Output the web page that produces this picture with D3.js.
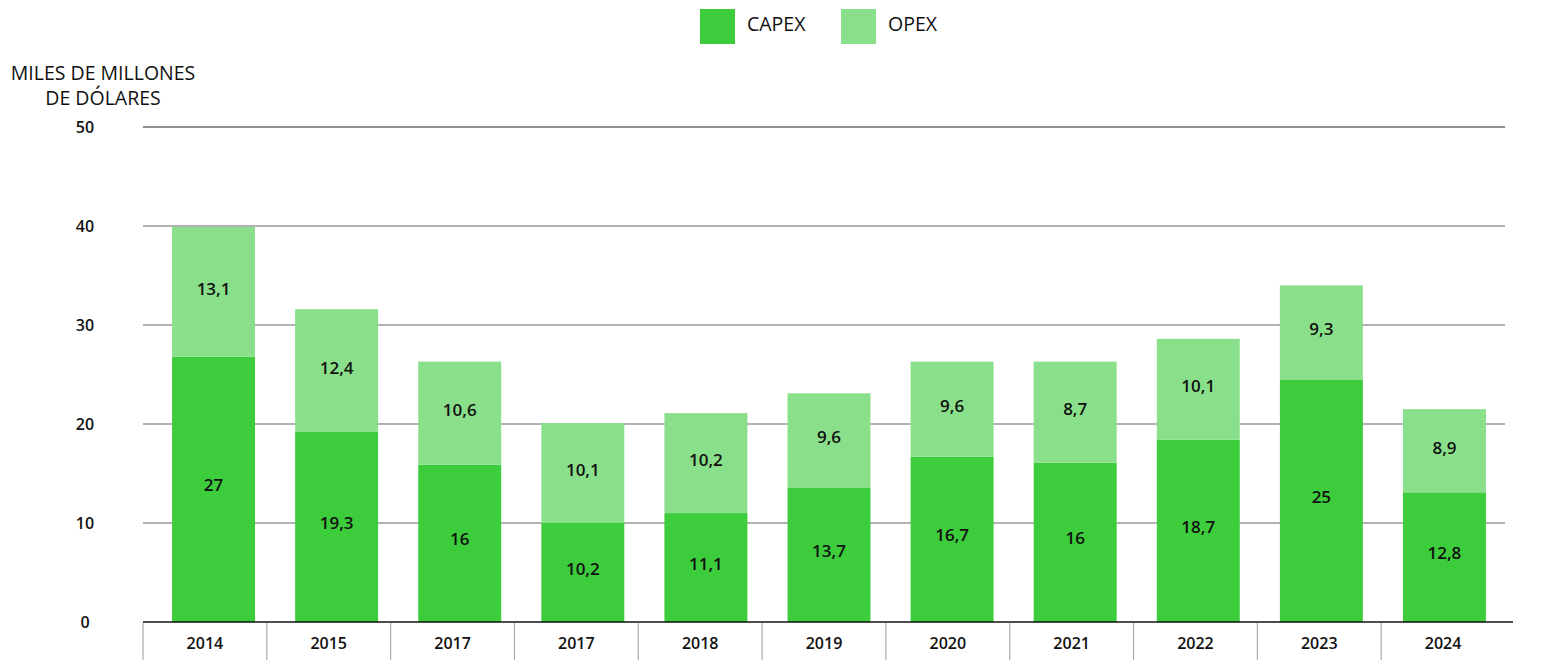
<!DOCTYPE html>
<html>
<head>
<meta charset="utf-8">
<script src="https://cdn.jsdelivr.net/npm/d3@7"></script>
<style>
  body { margin: 0; background: #fff; }
  text { font-family: "Open Sans", "Noto Sans", sans-serif; fill: #111; }
</style>
</head>
<body>
<svg id="chart" width="1562" height="660"></svg>
<script>
// datos
var years = ["2014", "2015", "2017", "2017", "2018", "2019", "2020", "2021", "2022", "2023", "2024"];
// etiquetas tal como aparecen
var capexLabels = ["27", "19,3", "16", "10,2", "11,1", "13,7", "16,7", "16", "18,7", "25", "12,8"];
var opexLabels  = ["13,1", "12,4", "10,6", "10,1", "10,2", "9,6", "9,6", "8,7", "10,1", "9,3", "8,9"];
// alturas de los segmentos
var capex = [26.8, 19.2, 15.9, 10.0, 11.0, 13.6, 16.7, 16.1, 18.4, 24.5, 13.1];
var opex  = [13.1, 12.4, 10.4, 10.1, 10.1, 9.5, 9.6, 10.2, 10.2, 9.5, 8.4];
var yTicks = [0, 10, 20, 30, 40, 50];

var colorCapex = "#3ccc3c", colorOpex = "#8ae08a";

var svg = d3.select("#chart");

// celdas del eje x
var cell = d3.scaleBand()
    .domain(d3.range(years.length))
    .range([143, 1505]);
// barras
var x = d3.scaleBand()
    .domain(d3.range(years.length))
    .range([152, 1506])
    .paddingInner(0.326)
    .paddingOuter(0.163);

var y = d3.scaleLinear()
    .domain([0, 50])
    .range([622, 127]);

// lineas de la grilla
svg.append("g").selectAll("line")
    .data(yTicks.filter(d => d > 0))
    .enter().append("line")
    .attr("x1", 143).attr("x2", 1505)
    .attr("y1", d => y(d)).attr("y2", d => y(d))
    .attr("stroke", d => d == 50 ? "#222" : "#666")
    .attr("stroke-width", 1.2);

// etiquetas eje y
svg.append("g").selectAll("text")
    .data(yTicks)
    .enter().append("text")
    .attr("x", 85).attr("y", d => y(d) + 6)
    .attr("text-anchor", "middle")
    .style("font-size", "16px").style("font-weight", "600")
    .text(d => d);

// barras
var stack = years.map((yr, i) => ({ i: i, c: capex[i], o: opex[i], lc: capexLabels[i], lo: opexLabels[i] }));

var bars = svg.append("g");
bars.selectAll(".capex")
    .data(stack).enter().append("rect")
    .attr("class", "capex")
    .attr("x", d => x(d.i)).attr("width", x.bandwidth())
    .attr("y", d => y(d.c)).attr("height", d => y(0) - y(d.c))
    .attr("fill", colorCapex);
bars.selectAll(".opex")
    .data(stack).enter().append("rect")
    .attr("class", "opex")
    .attr("x", d => x(d.i)).attr("width", x.bandwidth())
    .attr("y", d => y(d.c + d.o)).attr("height", d => y(d.c) - y(d.c + d.o))
    .attr("fill", colorOpex);

// valores
bars.selectAll(".lc")
    .data(stack).enter().append("text")
    .attr("x", d => x(d.i) + x.bandwidth() / 2)
    .attr("y", d => y(d.c / 2) + 2)
    .attr("text-anchor", "middle")
    .style("font-size", "17px").style("font-weight", "600")
    .text(d => d.lc);
bars.selectAll(".lo")
    .data(stack).enter().append("text")
    .attr("x", d => x(d.i) + x.bandwidth() / 2)
    .attr("y", d => y(d.c + d.o / 2) + 3)
    .attr("text-anchor", "middle")
    .style("font-size", "17px").style("font-weight", "600")
    .text(d => d.lo);

// eje x
svg.append("line")
    .attr("x1", 143).attr("x2", 1513)
    .attr("y1", y(0)).attr("y2", y(0))
    .attr("stroke", "#111").attr("stroke-width", 1.5);
svg.append("g").selectAll("line")
    .data(d3.range(years.length))
    .enter().append("line")
    .attr("x1", d => cell(d)).attr("x2", d => cell(d))
    .attr("y1", y(0) + 1).attr("y2", 660)
    .attr("stroke", "#aaa").attr("stroke-width", 1.2);
svg.append("g").selectAll("text")
    .data(years)
    .enter().append("text")
    .attr("x", (d, i) => cell(i) + cell.bandwidth() / 2)
    .attr("y", 649)
    .attr("text-anchor", "middle")
    .style("font-size", "16px").style("font-weight", "600")
    .text(d => d);

// titulo eje y
svg.append("text").attr("x", 103).attr("y", 80).attr("text-anchor", "middle")
    .style("font-size", "19.5px").text("MILES DE MILLONES");
svg.append("text").attr("x", 103).attr("y", 105).attr("text-anchor", "middle")
    .style("font-size", "19.5px").text("DE DÓLARES");

// leyenda
var legend = [["CAPEX", colorCapex, 700], ["OPEX", colorOpex, 841]];
legend.forEach(function(l) {
    svg.append("rect").attr("x", l[2]).attr("y", 9).attr("width", 35).attr("height", 35).attr("fill", l[1]);
    svg.append("text").attr("x", l[2] + 47).attr("y", 31).style("font-size", "19.5px").text(l[0]);
});
</script>
</body>
</html>
